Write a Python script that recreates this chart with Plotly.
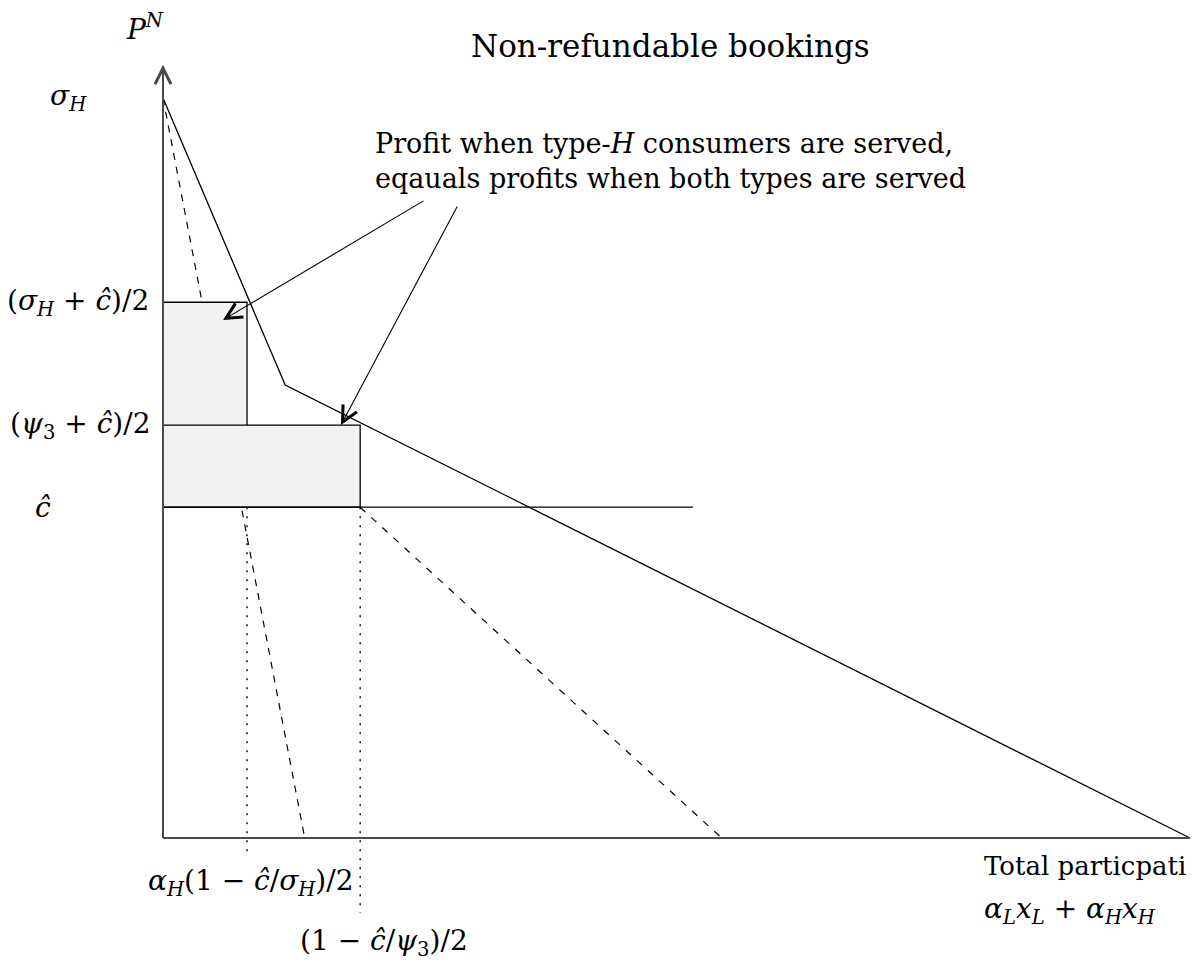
import plotly.graph_objects as go

# ---------------- data (normalised: sigma_H = 1, demand x-intercept = 1) ----------------
sigma_H = 1.0
c_hat = 0.447              # ĉ
p_H = 0.724                # (σ_H + ĉ)/2
p_3 = 0.558                # (ψ3 + ĉ)/2
q_H = 0.0818               # α_H(1 − ĉ/σ_H)/2
q_3 = 0.192                # (1 − ĉ/ψ3)/2

demand_x = [0.0, 0.119, 1.0]
demand_y = [1.0, 0.612, 0.0]

mr_H_x = [0.0, 0.138]
mr_H_y = [1.0, 0.0]

mr_L_x = [q_3, 0.544]
mr_L_y = [c_hat, 0.0]

c_line_x = [0.0, 0.516]
c_line_y = [c_hat, c_hat]

dotH_y = [c_hat, -0.019]
dot3_y = [c_hat, -0.101]

y_axis_top = 1.045

W, H = 1202, 964
X0, XS = 163, 1027   # pixel of x=0 and pixel length of one x-unit
Y0, YS = 838, 740    # pixel of y=0 and pixel length of one y-unit

FONT = "DejaVu Serif"
BLACK = "black"
AX = "#4a4a4a"

fig = go.Figure()

def line(x, y, dash="solid", width=1.3, color=BLACK):
    fig.add_trace(go.Scatter(x=x, y=y, mode="lines", hoverinfo="skip",
                             line=dict(color=color, width=width, dash=dash),
                             showlegend=False))

# dashed marginal lines (under the shaded rectangles)
line(mr_H_x, mr_H_y, dash="7px,7px", width=1.2)
line(mr_L_x, mr_L_y, dash="7px,8px", width=1.2)
# dotted verticals
line([q_H, q_H], dotH_y, dash="2px,7px", width=1.4)
line([q_3, q_3], dot3_y, dash="2px,7px", width=1.4)

# shaded profit rectangles
for qx, py in [(q_H, p_H), (q_3, p_3)]:
    fig.add_trace(go.Scatter(x=[0, qx, qx, 0, 0], y=[c_hat, c_hat, py, py, c_hat],
                             mode="lines", fill="toself", fillcolor="#f2f2f2",
                             line=dict(color=BLACK, width=1.3), hoverinfo="skip",
                             showlegend=False))

line(c_line_x, c_line_y)
line(demand_x, demand_y)

# axes
line([0, 1.0], [0, 0], width=2, color=AX)
line([0, 0], [0, y_axis_top - 0.002], width=2, color=AX)


def px(xp):
    return (xp - X0) / XS


def py_(yp):
    return (Y0 - yp) / YS


annotations = []
# y-axis arrow head
annotations.append(dict(x=0, y=y_axis_top, ax=0, ay=y_axis_top - 0.04,
                        xref="x", yref="y", axref="x", ayref="y", text="",
                        showarrow=True, arrowhead=5, arrowsize=2.6, arrowwidth=1.2,
                        arrowcolor=AX, standoff=0, startstandoff=0))
# pointer arrows
for tail, head in [((425, 200), (223, 320)), ((458, 205), (341, 425))]:
    annotations.append(dict(x=px(head[0]), y=py_(head[1]), ax=px(tail[0]), ay=py_(tail[1]),
                            xref="x", yref="y", axref="x", ayref="y", text="",
                            showarrow=True, arrowhead=5, arrowsize=2.8, arrowwidth=1.1,
                            arrowcolor=BLACK, standoff=0, startstandoff=0))


def label(text, xp, yp, xanchor="center", size=28):
    annotations.append(dict(x=xp / W, y=1 - yp / H, xref="paper", yref="paper",
                            text=text, showarrow=False, xanchor=xanchor, yanchor="middle",
                            font=dict(family=FONT, size=size, color=BLACK),
                            align="left"))


label("Non-refundable bookings", 671, 46, size=31)
label("<i>P</i><sup><i>N</i></sup>", 145, 27, size=28)
label("<i>σ</i><sub><i>H</i></sub>", 68, 98)
label("(<i>σ</i><sub><i>H</i></sub> + <i>ĉ</i>)/2", 151, 302, xanchor="right")
label("(<i>ψ</i><sub>3</sub> + <i>ĉ</i>)/2", 153, 425, xanchor="right")
label("<i>ĉ</i>", 43, 507)
label("Profit when type-<i>H</i> consumers are served,<br>eqauals profits when both types are served",
      373, 161, xanchor="left", size=27)
label("<i>α</i><sub><i>H</i></sub>(1 − <i>ĉ</i>/<i>σ</i><sub><i>H</i></sub>)/2", 251, 882)
label("(1 − <i>ĉ</i>/<i>ψ</i><sub>3</sub>)/2", 384, 942)
label("Total particpati", 982, 866, xanchor="left", size=26)
label("<i>α</i><sub><i>L</i></sub><i>x</i><sub><i>L</i></sub> + <i>α</i><sub><i>H</i></sub><i>x</i><sub><i>H</i></sub>",
      982, 910, xanchor="left")

fig.update_layout(
    width=W, height=H,
    margin=dict(l=0, r=0, t=0, b=0),
    paper_bgcolor="white", plot_bgcolor="white",
    xaxis=dict(range=[-X0 / XS, (W - X0) / XS], visible=False, fixedrange=True),
    yaxis=dict(range=[-(H - Y0) / YS, Y0 / YS], visible=False, fixedrange=True),
    annotations=annotations,
    showlegend=False,
)

fig.write_html("out.html", config={"displayModeBar": False},
               post_script="document.body.style.margin='0';")
